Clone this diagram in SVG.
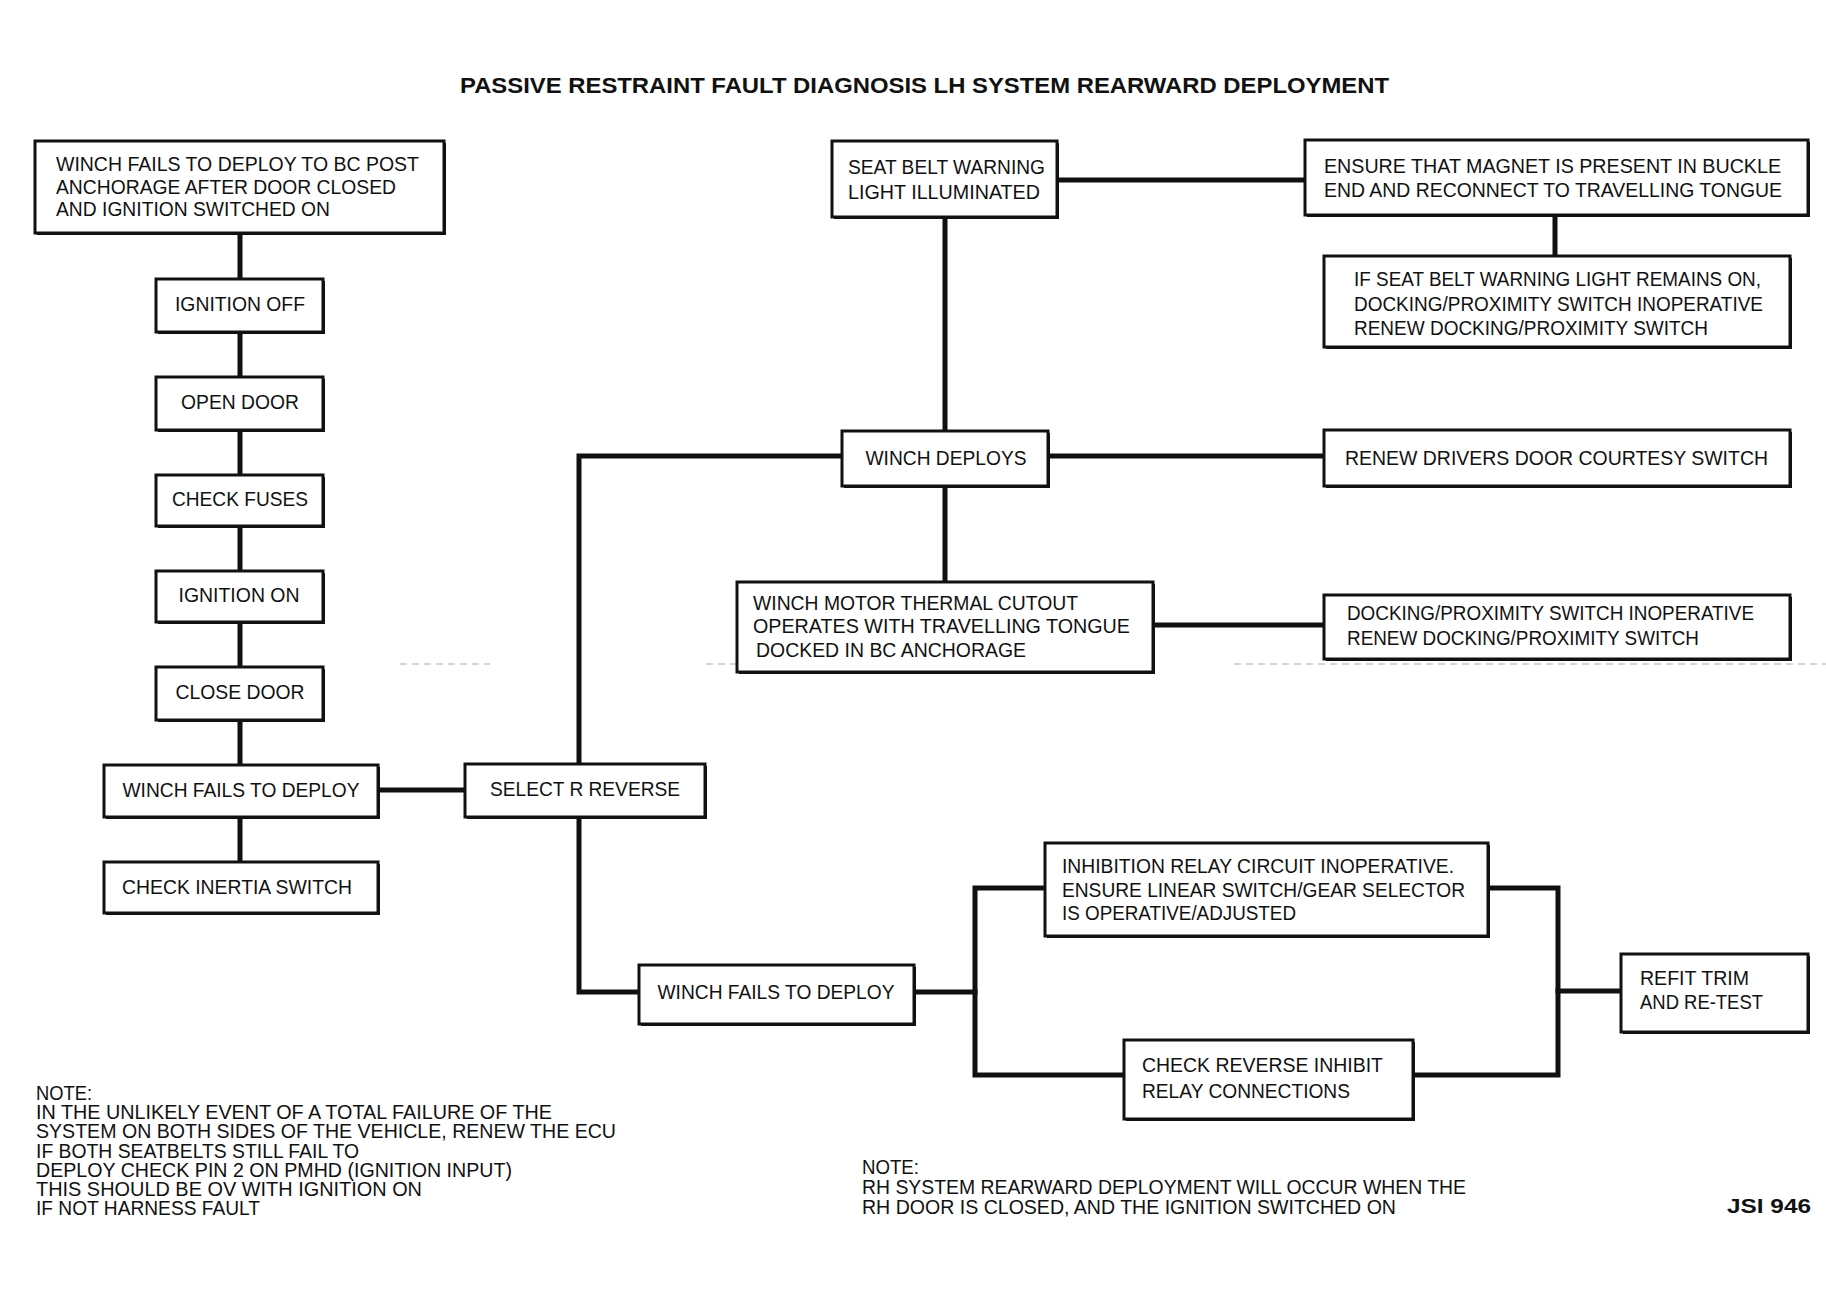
<svg xmlns="http://www.w3.org/2000/svg" width="1826" height="1312" viewBox="0 0 1826 1312">
<style>
text{font-family:"Liberation Sans",Arial,sans-serif;font-size:20px;fill:#111}
.t{font-weight:bold;font-size:22px}
.c{text-anchor:middle}
.b rect{fill:#fff;stroke:#111;stroke-width:3}
.b path{fill:none;stroke:#111;stroke-width:2}
.k{fill:none;stroke:#111;stroke-width:5;stroke-linecap:square}
.d{fill:none;stroke:#aaa;stroke-width:1;stroke-dasharray:7 5}
</style>
<rect width="1826" height="1312" fill="#fff"/>
<text class="t" x="460" y="93" textLength="929" lengthAdjust="spacingAndGlyphs">PASSIVE RESTRAINT FAULT DIAGNOSIS LH SYSTEM REARWARD DEPLOYMENT</text>
<path class="d" d="M400 664H490M706 664H738M1234 664H1826"/>
<g id="connectors">
<path class="k" d="M240 233V862"/>
<path class="k" d="M378 790H465"/>
<path class="k" d="M842 456H579V992H639"/>
<path class="k" d="M1048 456H1324"/>
<path class="k" d="M945 217V582"/>
<path class="k" d="M1057 180H1305"/>
<path class="k" d="M1555 215V256"/>
<path class="k" d="M1153 625H1324"/>
<path class="k" d="M914 992H975"/>
<path class="k" d="M1045 888H975V1075H1124"/>
<path class="k" d="M1488 888H1558V1075H1413"/>
<path class="k" d="M1558 991H1621"/>
</g>
<g id="n1" class="b"><rect x="35" y="141" width="409" height="92"/><path d="M445 143V234H37"/>
<text x="56" y="171" textLength="363" lengthAdjust="spacingAndGlyphs">WINCH FAILS TO DEPLOY TO BC  POST</text>
<text x="56" y="194" textLength="340" lengthAdjust="spacingAndGlyphs">ANCHORAGE AFTER DOOR CLOSED</text>
<text x="56" y="216" textLength="274" lengthAdjust="spacingAndGlyphs">AND IGNITION SWITCHED ON</text></g>
<g id="n2" class="b"><rect x="156" y="279" width="167" height="53"/><path d="M324 281V333H158"/>
<text class="c" x="240" y="311" textLength="130" lengthAdjust="spacingAndGlyphs">IGNITION OFF</text></g>
<g id="n3" class="b"><rect x="156" y="377" width="167" height="53"/><path d="M324 379V431H158"/>
<text class="c" x="240" y="409" textLength="118" lengthAdjust="spacingAndGlyphs">OPEN DOOR</text></g>
<g id="n4" class="b"><rect x="156" y="475" width="167" height="51"/><path d="M324 477V527H158"/>
<text class="c" x="240" y="506" textLength="136" lengthAdjust="spacingAndGlyphs">CHECK FUSES</text></g>
<g id="n5" class="b"><rect x="156" y="571" width="167" height="51"/><path d="M324 573V623H158"/>
<text class="c" x="239" y="602" textLength="121" lengthAdjust="spacingAndGlyphs">IGNITION ON</text></g>
<g id="n6" class="b"><rect x="156" y="667" width="167" height="53"/><path d="M324 669V721H158"/>
<text class="c" x="240" y="699" textLength="129" lengthAdjust="spacingAndGlyphs">CLOSE DOOR</text></g>
<g id="n7" class="b"><rect x="104" y="765" width="274" height="52"/><path d="M379 767V818H106"/>
<text class="c" x="241" y="797" textLength="237" lengthAdjust="spacingAndGlyphs">WINCH FAILS TO DEPLOY</text></g>
<g id="n8" class="b"><rect x="104" y="862" width="274" height="51"/><path d="M379 864V914H106"/>
<text x="122" y="894" textLength="230" lengthAdjust="spacingAndGlyphs">CHECK INERTIA SWITCH</text></g>
<g id="n9" class="b"><rect x="465" y="764" width="240" height="53"/><path d="M706 766V818H467"/>
<text class="c" x="585" y="796" textLength="190" lengthAdjust="spacingAndGlyphs">SELECT R REVERSE</text></g>
<g id="n10" class="b"><rect x="832" y="141" width="225" height="76"/><path d="M1058 143V218H834"/>
<text x="848" y="174" textLength="197" lengthAdjust="spacingAndGlyphs">SEAT BELT WARNING</text>
<text x="848" y="199" textLength="192" lengthAdjust="spacingAndGlyphs">LIGHT  ILLUMINATED</text></g>
<g id="n11" class="b"><rect x="1305" y="140" width="503" height="75"/><path d="M1809 142V216H1307"/>
<text x="1324" y="173" textLength="457" lengthAdjust="spacingAndGlyphs">ENSURE THAT MAGNET IS PRESENT IN BUCKLE</text>
<text x="1324" y="197" textLength="458" lengthAdjust="spacingAndGlyphs">END AND RECONNECT TO TRAVELLING TONGUE</text></g>
<g id="n12" class="b"><rect x="1324" y="256" width="466" height="91"/><path d="M1791 258V348H1326"/>
<text x="1354" y="286" textLength="407" lengthAdjust="spacingAndGlyphs">IF SEAT BELT WARNING LIGHT REMAINS ON,</text>
<text x="1354" y="311" textLength="409" lengthAdjust="spacingAndGlyphs">DOCKING/PROXIMITY SWITCH INOPERATIVE</text>
<text x="1354" y="335" textLength="354" lengthAdjust="spacingAndGlyphs">RENEW DOCKING/PROXIMITY SWITCH</text></g>
<g id="n13" class="b"><rect x="842" y="431" width="206" height="55"/><path d="M1049 433V487H844"/>
<text class="c" x="946" y="465" textLength="161" lengthAdjust="spacingAndGlyphs">WINCH DEPLOYS</text></g>
<g id="n14" class="b"><rect x="1324" y="430" width="466" height="56"/><path d="M1791 432V487H1326"/>
<text x="1345" y="465" textLength="423" lengthAdjust="spacingAndGlyphs">RENEW DRIVERS DOOR  COURTESY SWITCH</text></g>
<g id="n15" class="b"><rect x="737" y="582" width="416" height="90"/><path d="M1154 584V673H739"/>
<text x="753" y="610" textLength="325" lengthAdjust="spacingAndGlyphs">WINCH MOTOR THERMAL CUTOUT</text>
<text x="753" y="633" textLength="377" lengthAdjust="spacingAndGlyphs">OPERATES WITH  TRAVELLING TONGUE</text>
<text x="756" y="657" textLength="270" lengthAdjust="spacingAndGlyphs">DOCKED IN BC ANCHORAGE</text></g>
<g id="n16" class="b"><rect x="1324" y="595" width="466" height="64"/><path d="M1791 597V660H1326"/>
<text x="1347" y="620" textLength="407" lengthAdjust="spacingAndGlyphs">DOCKING/PROXIMITY SWITCH INOPERATIVE</text>
<text x="1347" y="645" textLength="352" lengthAdjust="spacingAndGlyphs">RENEW DOCKING/PROXIMITY SWITCH</text></g>
<g id="n17" class="b"><rect x="639" y="965" width="275" height="59"/><path d="M915 967V1025H641"/>
<text class="c" x="776" y="999" textLength="237" lengthAdjust="spacingAndGlyphs">WINCH FAILS TO DEPLOY</text></g>
<g id="n18" class="b"><rect x="1045" y="843" width="443" height="93"/><path d="M1489 845V937H1047"/>
<text x="1062" y="873" textLength="392" lengthAdjust="spacingAndGlyphs">INHIBITION RELAY CIRCUIT INOPERATIVE.</text>
<text x="1062" y="897" textLength="403" lengthAdjust="spacingAndGlyphs">ENSURE LINEAR SWITCH/GEAR SELECTOR</text>
<text x="1062" y="920" textLength="234" lengthAdjust="spacingAndGlyphs">IS OPERATIVE/ADJUSTED</text></g>
<g id="n19" class="b"><rect x="1124" y="1040" width="289" height="79"/><path d="M1414 1042V1120H1126"/>
<text x="1142" y="1072" textLength="241" lengthAdjust="spacingAndGlyphs">CHECK REVERSE INHIBIT</text>
<text x="1142" y="1098" textLength="208" lengthAdjust="spacingAndGlyphs">RELAY CONNECTIONS</text></g>
<g id="n20" class="b"><rect x="1621" y="954" width="187" height="78"/><path d="M1809 956V1033H1623"/>
<text x="1640" y="985" textLength="109" lengthAdjust="spacingAndGlyphs">REFIT TRIM</text>
<text x="1640" y="1009" textLength="123" lengthAdjust="spacingAndGlyphs">AND RE-TEST</text></g>
<g id="note1">
<text x="36" y="1100" textLength="56" lengthAdjust="spacingAndGlyphs">NOTE:</text>
<text x="36" y="1119" textLength="516" lengthAdjust="spacingAndGlyphs">IN THE UNLIKELY EVENT OF A TOTAL FAILURE OF THE</text>
<text x="36" y="1138" textLength="580" lengthAdjust="spacingAndGlyphs">SYSTEM ON BOTH SIDES OF THE VEHICLE, RENEW THE ECU</text>
<text x="36" y="1158" textLength="323" lengthAdjust="spacingAndGlyphs">IF BOTH SEATBELTS STILL FAIL TO</text>
<text x="36" y="1177" textLength="476" lengthAdjust="spacingAndGlyphs">DEPLOY CHECK PIN 2 ON PMHD (IGNITION INPUT)</text>
<text x="36" y="1196" textLength="386" lengthAdjust="spacingAndGlyphs">THIS SHOULD BE OV WITH IGNITION ON</text>
<text x="36" y="1215" textLength="224" lengthAdjust="spacingAndGlyphs">IF NOT HARNESS FAULT</text>
</g>
<g id="note2">
<text x="862" y="1174" textLength="57" lengthAdjust="spacingAndGlyphs">NOTE:</text>
<text x="862" y="1194" textLength="604" lengthAdjust="spacingAndGlyphs">RH SYSTEM REARWARD DEPLOYMENT WILL OCCUR WHEN THE</text>
<text x="862" y="1214" textLength="534" lengthAdjust="spacingAndGlyphs">RH DOOR IS CLOSED, AND THE IGNITION SWITCHED ON</text>
</g>
<text x="1727" y="1213" style="font-weight:bold;font-size:20px" textLength="84" lengthAdjust="spacingAndGlyphs">JSI 946</text>
</svg>
